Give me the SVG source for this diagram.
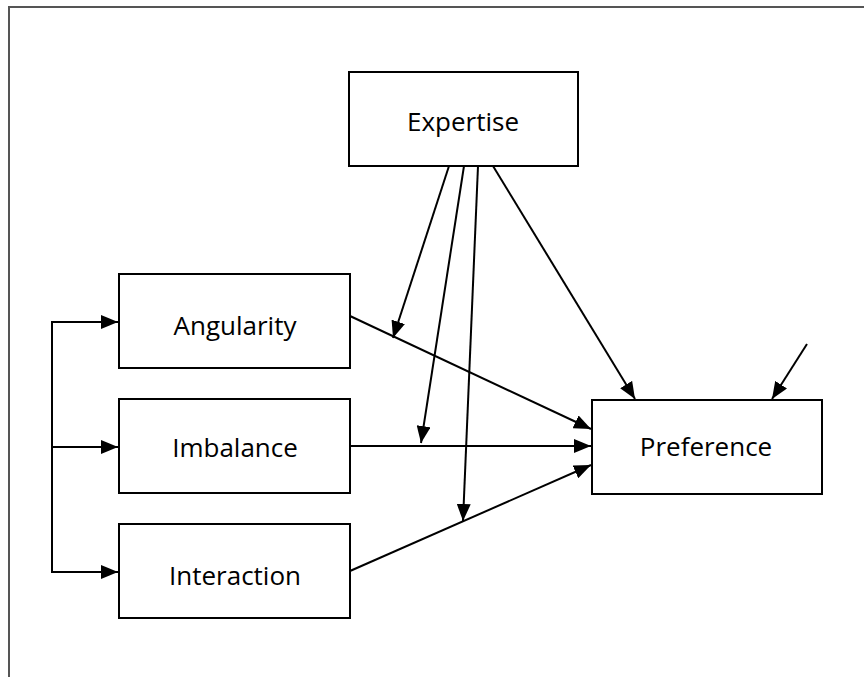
<svg xmlns="http://www.w3.org/2000/svg" width="864" height="677" viewBox="0 0 864 677">
<style>
.box{fill:#fff;stroke:#000;stroke-width:2}
.lbl{font-family:"Open Sans","Noto Sans","Liberation Sans",sans-serif;font-size:26px;fill:#000;text-anchor:middle;dominant-baseline:central}
.ln{fill:none;stroke:#000;stroke-width:2}
.frame{fill:none;stroke:#555;stroke-width:2}
</style>
<defs>
<marker id="ahb" viewBox="0 0 17 14" refX="17" refY="7" markerWidth="17" markerHeight="14" markerUnits="userSpaceOnUse" orient="auto">
<path d="M0,0 L17,7 L0,14 z" fill="#000"/>
</marker>
</defs>
<path class="frame" d="M9,677 V7 H864"/>
<g id="connectors">
<path class="ln" d="M105,322 H52 V572 H105" />
<line class="ln" x1="52" y1="322" x2="118" y2="322" marker-end="url(#ahb)"/>
<line class="ln" x1="52" y1="447" x2="118" y2="447" marker-end="url(#ahb)"/>
<line class="ln" x1="52" y1="572" x2="118" y2="572" marker-end="url(#ahb)"/>
<line class="ln" x1="350" y1="316" x2="591" y2="429" marker-end="url(#ahb)"/>
<line class="ln" x1="350" y1="446" x2="591" y2="446" marker-end="url(#ahb)"/>
<line class="ln" x1="350" y1="571" x2="591" y2="465" marker-end="url(#ahb)"/>
<line class="ln" x1="493" y1="166" x2="635" y2="399" marker-end="url(#ahb)"/>
<line class="ln" x1="807" y1="344" x2="772" y2="399" marker-end="url(#ahb)"/>
<line class="ln" x1="449" y1="166" x2="393" y2="338" marker-end="url(#ahb)"/>
<line class="ln" x1="464" y1="166" x2="421" y2="443" marker-end="url(#ahb)"/>
<line class="ln" x1="478" y1="166" x2="463" y2="521" marker-end="url(#ahb)"/>
</g>
<g id="expertise"><rect class="box" x="349" y="72" width="229" height="94"/><text class="lbl" x="463" y="121">Expertise</text></g>
<g id="angularity"><rect class="box" x="119" y="274" width="231" height="94"/><text class="lbl" x="235" y="325">Angularity</text></g>
<g id="imbalance"><rect class="box" x="119" y="399" width="231" height="94"/><text class="lbl" x="235" y="447">Imbalance</text></g>
<g id="interaction"><rect class="box" x="119" y="524" width="231" height="94"/><text class="lbl" x="235" y="575">Interaction</text></g>
<g id="preference"><rect class="box" x="592" y="400" width="230" height="94"/><text class="lbl" x="706" y="446">Preference</text></g>
</svg>
